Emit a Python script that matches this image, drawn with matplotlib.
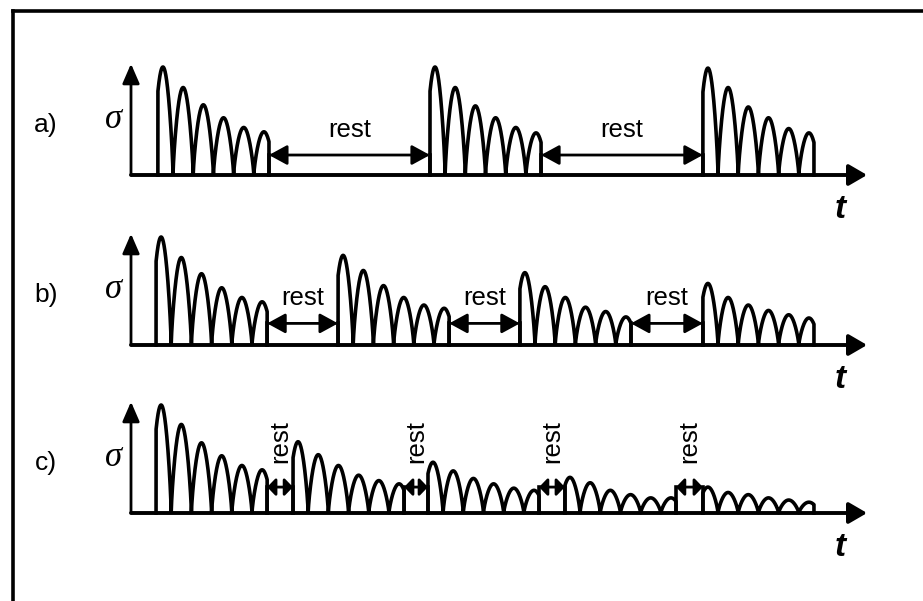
import numpy as np
import matplotlib
matplotlib.use("Agg")
import matplotlib.pyplot as plt
from matplotlib.patches import FancyArrowPatch
from matplotlib.lines import Line2D

# ---------------- data (time in loading-cycle units, stress relative to first peak) -------------
panel_labels = ["a)", "b)", "c)"]
rest_label = "rest"
y_label = "σ"
x_label = "t"

# time of the first peak of every loading block
a_starts = [1.58, 15.05, 28.56]
b_starts = [1.49, 10.50, 19.50, 28.56]
c_starts = [1.49, 8.27, 14.95, 21.73, 28.56]

# peak stress of each cycle in each block
a_peaks = [
    [1.00, 0.81, 0.65, 0.53, 0.44, 0.40],
    [1.00, 0.81, 0.64, 0.53, 0.44, 0.39],
    [0.99, 0.81, 0.63, 0.53, 0.43, 0.39],
]
b_peaks = [
    [1.00, 0.81, 0.66, 0.53, 0.44, 0.40],
    [0.83, 0.69, 0.55, 0.44, 0.37, 0.34],
    [0.67, 0.54, 0.44, 0.35, 0.31, 0.26],
    [0.57, 0.44, 0.37, 0.32, 0.28, 0.25],
]
c_peaks = [
    [1.00, 0.82, 0.65, 0.53, 0.44, 0.40],
    [0.66, 0.54, 0.44, 0.35, 0.30, 0.27],
    [0.47, 0.39, 0.32, 0.27, 0.23, 0.21],
    [0.33, 0.28, 0.21, 0.17, 0.14, 0.14],
    [0.24, 0.19, 0.17, 0.14, 0.12, 0.10],
]

panels = [(a_starts, a_peaks), (b_starts, b_peaks), (c_starts, c_peaks)]

# ---------------- layout ----------------
W, H = 923, 601
PX_T = 20.2      # pixels per cycle
PX_S = 108.0     # pixels per unit stress
X0 = 131         # pixel x of the stress axis
bases = [175, 345, 513]          # pixel y of each time axis
rest_levels = [0.185, 0.20, 0.24]
rest_text_y = [0.42, 0.435, 0.66]
t_end = 36.44
s_top = 1.03
LW = 2.6

fig = plt.figure(figsize=(W / 100, H / 100), dpi=100)
fig.patch.set_facecolor("white")

# frame (left and top only, as in the cropped original)
fig.add_artist(Line2D([13 / W, 13 / W], [0, 1 - 11 / H], transform=fig.transFigure,
                      color="k", lw=2.6, solid_capstyle="projecting"))
fig.add_artist(Line2D([13 / W, 1], [1 - 11 / H, 1 - 11 / H], transform=fig.transFigure,
                      color="k", lw=2.6, solid_capstyle="projecting"))


def block_curve(first, amps, p=0.75):
    n = len(amps)
    t = np.linspace(first - 0.25, first + n - 1 + 0.25, 300 * n)
    k = np.clip(np.rint(t - first).astype(int), 0, n - 1)
    A = np.asarray(amps)[k]
    y = A * np.abs(np.cos(np.pi * (t - first - k))) ** p
    t = np.concatenate([[t[0]], t, [t[-1]]])
    y = np.concatenate([[0.0], y, [0.0]])
    return t, y


for i, (base, (starts, peaks)) in enumerate(zip(bases, panels)):
    ax = fig.add_axes([0, 0, 1, 1])
    ax.set_xlim(-X0 / PX_T, (W - X0) / PX_T)
    ax.set_ylim(-(H - base) / PX_S, base / PX_S)
    ax.axis("off")
    ax.patch.set_alpha(0)

    # axes with arrows
    ax.add_patch(FancyArrowPatch((0, 0), (t_end, 0), arrowstyle="-|>,head_length=0.55,head_width=0.32",
                                 mutation_scale=20, lw=2.8, color="k", shrinkA=0, shrinkB=0))
    ax.add_patch(FancyArrowPatch((0, 0), (0, s_top), arrowstyle="-|>,head_length=0.6,head_width=0.26",
                                 mutation_scale=20, lw=2.0, color="k", shrinkA=0, shrinkB=0))

    # loading blocks
    ends = []
    for first, amps in zip(starts, peaks):
        t, y = block_curve(first, amps)
        ax.plot(t, y, color="k", lw=LW, solid_joinstyle="round")
        ends.append((first - 0.25, first + len(amps) - 1 + 0.25))

    # rest periods
    lvl = rest_levels[i]
    for (s0, e0), (s1, e1) in zip(ends[:-1], ends[1:]):
        ax.plot([e0, e0], [0, lvl], color="k", lw=LW)
        ax.plot([s1, s1], [0, lvl], color="k", lw=LW)
        short = (s1 - e0) < 2.5
        style = ("<|-|>,head_length=0.25,head_width=0.26" if short
                 else "<|-|>,head_length=0.55,head_width=0.3")
        ax.add_patch(FancyArrowPatch((e0, lvl), (s1, lvl), arrowstyle=style,
                                     mutation_scale=20, lw=2.0, color="k", shrinkA=0, shrinkB=0))
        mid = 0.5 * (e0 + s1)
        if short:
            ax.text(mid, rest_text_y[i], rest_label, rotation=90, ha="center", va="center",
                    fontsize=18.5, family="Liberation Sans")
        else:
            ax.text(mid, rest_text_y[i], rest_label, ha="center", va="center",
                    fontsize=18.5, family="Liberation Sans")

    # labels
    ax.text(-85 / PX_T, 50 / PX_S, panel_labels[i], ha="center", va="center",
            fontsize=19, family="Liberation Sans")
    ax.text(-17 / PX_T, 56 / PX_S, y_label, ha="center", va="center",
            fontsize=25, family="Liberation Serif", style="italic")
    ax.text(35.1, -34 / PX_S, x_label, ha="center", va="center",
            fontsize=24, family="Liberation Sans", style="italic", weight="bold")

fig.savefig("out.png", dpi=100, facecolor="white")
